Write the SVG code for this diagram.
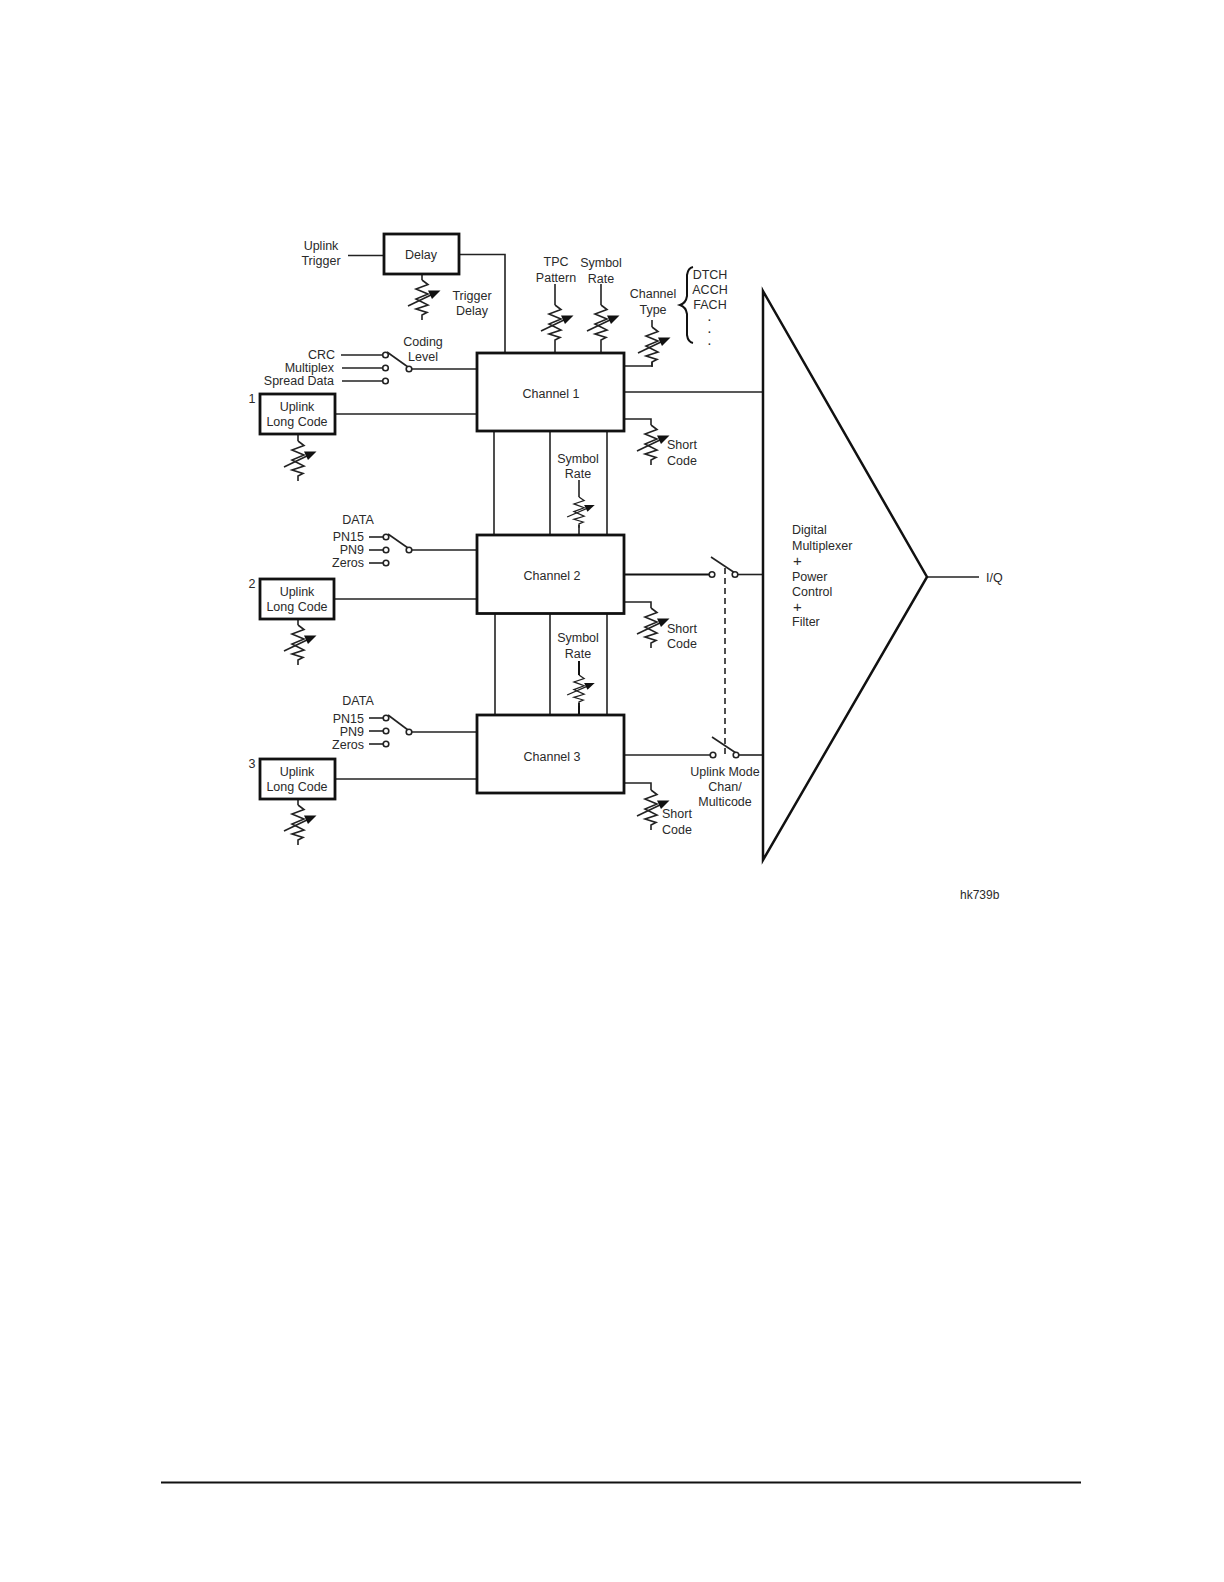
<svg xmlns="http://www.w3.org/2000/svg" xmlns:xlink="http://www.w3.org/1999/xlink" width="1224" height="1582" viewBox="0 0 1224 1582">
<style>
text{font-family:"Liberation Sans",Arial,sans-serif;font-size:12.5px;fill:#2a2a2a}
.m{text-anchor:middle}
.e{text-anchor:end}
.box{fill:#fff;stroke:#111;stroke-width:2.8}
.ln{fill:none;stroke:#222;stroke-width:1.6}
.th{fill:none;stroke:#111;stroke-width:2}
.o{fill:#fff;stroke:#222;stroke-width:1.6}
.dot{font-size:10px;font-weight:bold}
.pl{font-size:15px}
</style>
<defs>
<g id="res">
<polyline class="ln" points="0,0 6,4.500 -6,9 6,14 -6,19 6,25 -6,29 5,32.500 0,35 0,40"/>
<line class="ln" x1="-14" y1="26" x2="10" y2="14.500"/>
<polygon points="18.500,10.500 6,10.500 10,19" fill="#111"/>
</g>
</defs>
<g id="connectors">
<line class="ln" x1="348" y1="255.500" x2="384" y2="255.500"/>
<polyline class="ln" points="459,254.500 505,254.500 505,353"/>
<line class="ln" x1="422" y1="274" x2="422" y2="280"/>
<line class="ln" x1="341" y1="355" x2="385" y2="355"/>
<line class="ln" x1="342" y1="368" x2="385" y2="368"/>
<line class="ln" x1="342" y1="381" x2="385" y2="381"/>
<line class="ln" x1="387" y1="352" x2="408" y2="367"/>
<line class="ln" x1="409" y1="369" x2="477" y2="369"/>
<line class="ln" x1="335" y1="414" x2="477" y2="414"/>
<line class="ln" x1="298" y1="434" x2="298" y2="441"/>
<line class="ln" x1="555" y1="284" x2="555" y2="305"/>
<line class="ln" x1="555" y1="345" x2="555" y2="353"/>
<line class="ln" x1="601" y1="284" x2="601" y2="305"/>
<line class="ln" x1="601" y1="345" x2="601" y2="353"/>
<line class="ln" x1="652" y1="320" x2="652" y2="327"/>
<polyline class="ln" points="652,362 652,366 624,366"/>
<line class="ln" x1="624" y1="392" x2="763" y2="392"/>
<polyline class="ln" points="624,419 651,419 651,425"/>
<line class="ln" x1="494" y1="431" x2="494" y2="535"/>
<line class="ln" x1="550" y1="431" x2="550" y2="535"/>
<line class="ln" x1="607" y1="431" x2="607" y2="535"/>
<polyline class="ln" points="579,480 579,497"/>
<line class="ln" x1="579" y1="525" x2="579" y2="535"/>
<line class="ln" x1="369" y1="537" x2="386" y2="537"/>
<line class="ln" x1="369" y1="550" x2="386" y2="550"/>
<line class="ln" x1="369" y1="563" x2="386" y2="563"/>
<line class="ln" x1="388" y1="534" x2="408" y2="548"/>
<line class="ln" x1="409" y1="550" x2="477" y2="550"/>
<line class="ln" x1="335" y1="599" x2="477" y2="599"/>
<line class="ln" x1="298" y1="619" x2="298" y2="625"/>
<line class="th" x1="624" y1="574.500" x2="711" y2="574.500"/>
<line class="ln" x1="711" y1="557" x2="735" y2="573"/>
<line class="ln" x1="735" y1="574.500" x2="763" y2="574.500"/>
<polyline class="ln" points="624,602 651,602 651,608"/>
<line class="ln" x1="495" y1="614" x2="495" y2="714"/>
<line class="ln" x1="550" y1="614" x2="550" y2="714"/>
<line class="ln" x1="607" y1="614" x2="607" y2="714"/>
<line class="th" x1="579" y1="661" x2="579" y2="675"/>
<line class="th" x1="579" y1="703" x2="579" y2="714"/>
<line class="ln" x1="369" y1="718" x2="386" y2="718"/>
<line class="ln" x1="369" y1="731" x2="386" y2="731"/>
<line class="ln" x1="369" y1="744" x2="386" y2="744"/>
<line class="ln" x1="388" y1="715" x2="408" y2="730"/>
<line class="ln" x1="409" y1="732" x2="477" y2="732"/>
<line class="ln" x1="335" y1="779" x2="477" y2="779"/>
<line class="ln" x1="298" y1="799" x2="298" y2="805"/>
<line class="ln" x1="624" y1="755" x2="712" y2="755"/>
<line class="ln" x1="712" y1="737" x2="736" y2="753"/>
<line class="ln" x1="736" y1="755" x2="763" y2="755"/>
<polyline class="ln" points="624,783 651,783 651,790"/>
<line class="ln" x1="725" y1="568" x2="725" y2="757" stroke-dasharray="6 4"/>
<line class="ln" x1="927" y1="577" x2="979" y2="577"/>
<path class="th" d="M693,267 Q688,268 687,275 L687,296 Q686,303 680,305 Q686,307 687,314 L687,335 Q688,342 693,343"/>
<line class="th" x1="161" y1="1482.500" x2="1081" y2="1482.500"/>
</g>
<g id="symbols">
<use xlink:href="#res" href="#res" x="422" y="280"/>
<use xlink:href="#res" href="#res" x="298" y="441"/>
<use xlink:href="#res" href="#res" x="298" y="625"/>
<use xlink:href="#res" href="#res" x="298" y="805"/>
<use xlink:href="#res" href="#res" x="555" y="305"/>
<use xlink:href="#res" href="#res" x="601" y="305"/>
<use xlink:href="#res" href="#res" x="652" y="327"/>
<use xlink:href="#res" href="#res" x="651" y="425"/>
<use xlink:href="#res" href="#res" x="651" y="608"/>
<use xlink:href="#res" href="#res" x="651" y="790"/>
<use xlink:href="#res" href="#res" transform="translate(579 497) scale(.85 .77)"/>
<use xlink:href="#res" href="#res" transform="translate(579 675) scale(.85 .77)"/>
</g>
<g id="contacts">
<circle class="o" cx="385.500" cy="355" r="2.800"/><circle class="o" cx="385.500" cy="368" r="2.800"/><circle class="o" cx="385.500" cy="381" r="2.800"/><circle class="o" cx="409" cy="369" r="2.800"/>
<circle class="o" cx="386" cy="537" r="2.800"/><circle class="o" cx="386" cy="550" r="2.800"/><circle class="o" cx="386" cy="563" r="2.800"/><circle class="o" cx="409" cy="550" r="2.800"/>
<circle class="o" cx="386" cy="718" r="2.800"/><circle class="o" cx="386" cy="731" r="2.800"/><circle class="o" cx="386" cy="744" r="2.800"/><circle class="o" cx="409" cy="732" r="2.800"/>
<circle class="o" cx="712" cy="574.500" r="2.800"/><circle class="o" cx="735" cy="574.500" r="2.800"/>
<circle class="o" cx="713" cy="755" r="2.800"/><circle class="o" cx="736" cy="755" r="2.800"/>
</g>
<g id="delay"><rect class="box" x="384" y="234" width="75" height="40"/><text class="m" x="421" y="259">Delay</text></g>
<g id="long1"><rect class="box" x="260" y="394" width="75" height="40"/><text class="m" x="297" y="411">Uplink</text><text class="m" x="297" y="426">Long Code</text></g>
<g id="long2"><rect class="box" x="260" y="579" width="74" height="40"/><text class="m" x="297" y="596">Uplink</text><text class="m" x="297" y="611">Long Code</text></g>
<g id="long3"><rect class="box" x="260" y="759" width="75" height="40"/><text class="m" x="297" y="776">Uplink</text><text class="m" x="297" y="791">Long Code</text></g>
<g id="channel1"><rect class="box" x="477" y="353" width="147" height="78"/><text class="m" x="551" y="398">Channel 1</text></g>
<g id="channel2"><rect class="box" x="477" y="535" width="147" height="78.500"/><text class="m" x="552" y="580">Channel 2</text></g>
<g id="channel3"><rect class="box" x="477" y="715" width="147" height="78"/><text class="m" x="552" y="761">Channel 3</text></g>
<g id="mux"><polygon points="763,291 927,577 763,860" fill="#fff" stroke="#111" stroke-width="2.500"/>
<text x="792" y="534">Digital</text><text x="792" y="550">Multiplexer</text><text class="pl" x="793" y="566">+</text><text x="792" y="581">Power</text><text x="792" y="596">Control</text><text class="pl" x="793" y="612">+</text><text x="792" y="626">Filter</text></g>
<g id="labels">
<text class="m" x="321" y="250">Uplink</text><text class="m" x="321" y="265">Trigger</text>
<text class="m" x="472" y="300">Trigger</text><text class="m" x="472" y="315">Delay</text>
<text class="m" x="423" y="346">Coding</text><text class="m" x="423" y="361">Level</text>
<text class="e" x="335" y="359">CRC</text><text class="e" x="334" y="372">Multiplex</text><text class="e" x="334" y="385">Spread Data</text>
<text class="m" x="252" y="403">1</text><text class="m" x="252" y="588">2</text><text class="m" x="252" y="768">3</text>
<text class="m" x="556" y="266">TPC</text><text class="m" x="556" y="282">Pattern</text>
<text class="m" x="601" y="267">Symbol</text><text class="m" x="601" y="283">Rate</text>
<text class="m" x="653" y="298">Channel</text><text class="m" x="653" y="314">Type</text>
<text class="m" x="710" y="279">DTCH</text><text class="m" x="710" y="294">ACCH</text><text class="m" x="710" y="309">FACH</text>
<text class="m dot" x="709.500" y="321">.</text><text class="m dot" x="709.500" y="333">.</text><text class="m dot" x="709.500" y="345">.</text>
<text x="667" y="449">Short</text><text x="667" y="465">Code</text>
<text class="m" x="578" y="463">Symbol</text><text class="m" x="578" y="478">Rate</text>
<text class="m" x="358" y="524">DATA</text>
<text class="e" x="364" y="541">PN15</text><text class="e" x="364" y="554">PN9</text><text class="e" x="364" y="567">Zeros</text>
<text x="667" y="633">Short</text><text x="667" y="648">Code</text>
<text class="m" x="578" y="642">Symbol</text><text class="m" x="578" y="658">Rate</text>
<text class="m" x="358" y="705">DATA</text>
<text class="e" x="364" y="723">PN15</text><text class="e" x="364" y="736">PN9</text><text class="e" x="364" y="749">Zeros</text>
<text class="m" x="725" y="776">Uplink Mode</text><text class="m" x="725" y="791">Chan/</text><text class="m" x="725" y="806">Multicode</text>
<text x="662" y="818">Short</text><text x="662" y="834">Code</text>
<text x="986" y="582">I/Q</text>
<text x="960" y="899" style="font-size:12px">hk739b</text>
</g>
</svg>
